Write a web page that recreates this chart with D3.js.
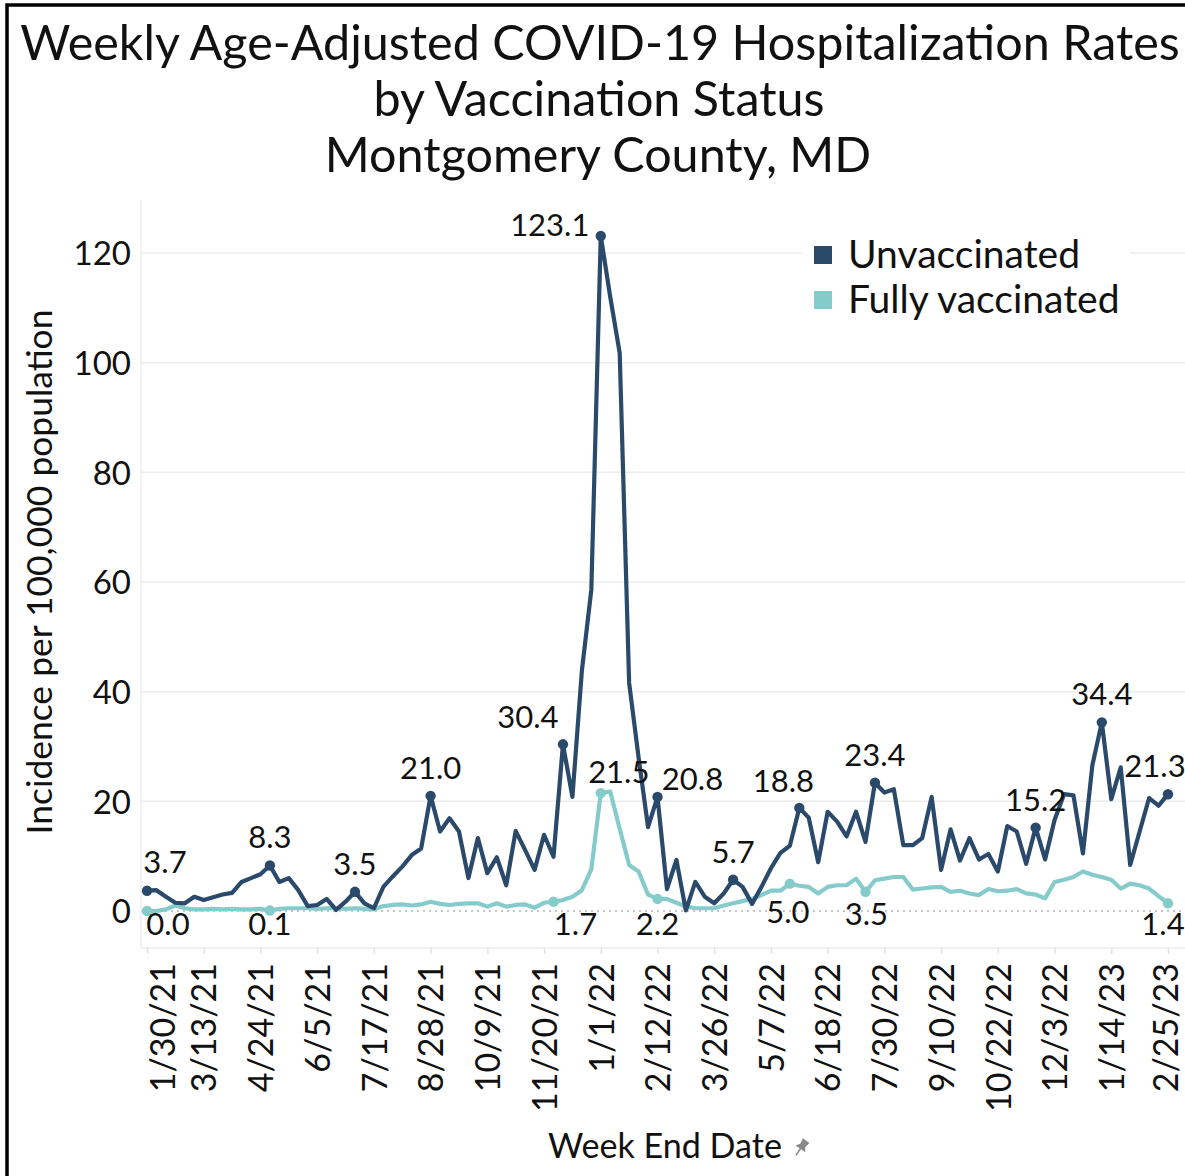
<!DOCTYPE html>
<html><head><meta charset="utf-8">
<script src="https://cdn.jsdelivr.net/npm/d3@7"></script>
<style>
body{margin:0;background:#fff}
svg{display:block}
text{font-family:Lato,"Open Sans",sans-serif;fill:#111}
</style>
</head><body>
<svg id="c" width="1185" height="1176"></svg>
<script>
// ---------- DATA ----------
const titleLines = ["Weekly Age-Adjusted COVID-19 Hospitalization Rates","by Vaccination Status","Montgomery County, MD"];
const seriesNames = ["Unvaccinated","Fully vaccinated"];
const yTitle = "Incidence per 100,000 population";
const xTitle = "Week End Date";
const firstWeek = "1/30/21";
const tickLabels = ["1/30/21","3/13/21","4/24/21","6/5/21","7/17/21","8/28/21","10/9/21","11/20/21","1/1/22","2/12/22","3/26/22","5/7/22","6/18/22","7/30/22","9/10/22","10/22/22","12/3/22","1/14/23","2/25/23"];
const yTicks = [0,20,40,60,80,100,120];
const unvaccinated = [
 3.7,3.8,2.6,1.5,1.4,2.6,2.0,2.5,3.0,3.3,5.3,6.0,6.7,8.3,5.3,6.0,3.8,0.9,1.1,2.2,
 0.2,1.7,3.5,1.4,0.5,4.4,6.3,8.1,10.2,11.4,21.0,14.5,16.9,14.5,6.0,13.3,6.9,9.8,4.7,14.6,
 11.1,7.5,13.9,9.9,30.4,20.8,43.8,58.6,123.1,112.0,101.8,41.6,28.0,15.3,20.8,4.0,9.3,0.1,5.3,2.6,
 1.4,3.2,5.7,4.4,1.3,4.4,7.8,10.6,11.9,18.8,17.0,8.9,18.1,16.3,13.6,18.1,12.6,23.4,21.6,22.2,
 12.0,12.0,13.3,20.8,7.5,14.9,9.2,13.3,9.4,10.4,7.2,15.5,14.5,8.6,15.2,9.4,16.6,21.3,21.1,10.5,
 26.6,34.4,20.4,26.2,8.4,14.5,20.6,19.2,21.3];
const fullyVaccinated = [
 0.0,0.0,0.3,1.0,0.5,0.3,0.3,0.4,0.3,0.4,0.3,0.3,0.4,0.1,0.4,0.5,0.5,0.5,0.4,0.5,
 0.5,0.4,0.5,0.4,0.3,0.9,1.1,1.2,1.0,1.2,1.7,1.3,1.1,1.3,1.4,1.4,0.8,1.4,0.8,1.1,
 1.2,0.6,1.5,1.7,2.0,2.6,3.8,7.6,21.5,21.8,15.0,8.4,7.2,3.0,2.2,2.2,1.5,0.8,0.5,0.5,
 0.5,1.0,1.4,1.8,2.2,2.9,3.7,3.7,5.0,4.6,4.4,3.2,4.4,4.7,4.7,5.9,3.5,5.6,5.9,6.2,
 6.2,3.9,4.1,4.3,4.4,3.5,3.7,3.2,2.9,4.0,3.6,3.7,4.0,3.2,3.0,2.3,5.3,5.7,6.2,7.2,
 6.6,6.2,5.7,4.1,5.0,4.7,4.1,2.7,1.4];
const unvacLabelWeeks = [0,13,22,30,44,48,54,62,69,77,94,101,108];
const vaxLabelWeeks = [0,13,43,48,54,68,76,108];

// ---------- STYLE / LAYOUT ----------
const W = 1185, H = 1176;
const colors = ["#2b4a6b", "#86cbcb"];
const plot = {left:141, right:1185, top:200, bottom:948};
const unvacNudge = {0:[18,-18],44:[-35,-16],48:[-51,0],54:[35,-7],69:[-16,-16],108:[-13,-17]};
const vaxNudge = {0:[21,24],13:[0,25],43:[22,33],48:[18,-10],54:[0,36],68:[-2,39],76:[1,33],108:[-5,32]};

const parse = d3.timeParse("%m/%d/%y");
const start = parse(firstWeek);
const weeks = unvaccinated.map((_, i) => d3.timeDay.offset(start, 7 * i));
const fmt = d3.timeFormat("%-m/%-d/%y");

const x = d3.scaleTime().domain([weeks[0], weeks[weeks.length - 1]]).range([147, 1168]);
const y = d3.scaleLinear().domain([0, 120]).range([911, 253]);

const svg = d3.select("#c");

function fit(sel, target) {
  const fs = parseFloat(sel.style("font-size"));
  const len = sel.node().getComputedTextLength();
  const nfs = fs * target / len;
  sel.style("font-size", nfs + "px");
  return nfs;
}

// border
svg.append("path").attr("d", `M7,${H} V5 H${W}`).attr("fill", "none").attr("stroke", "#000").attr("stroke-width", 3.5);

// title
const t1 = svg.append("text").attr("x", 600).attr("y", 60).attr("text-anchor", "middle").style("font-size", "46px").text(titleLines[0]);
const tfs = fit(t1, 1160);
svg.append("text").attr("x", 599).attr("y", 116).attr("text-anchor", "middle").style("font-size", tfs + "px").text(titleLines[1]);
svg.append("text").attr("x", 598).attr("y", 172).attr("text-anchor", "middle").style("font-size", tfs + "px").text(titleLines[2]);

// gridlines
const gY = svg.append("g");
gY.selectAll("line.grid").data(yTicks.filter(d => d > 0)).join("line")
  .attr("x1", plot.left).attr("x2", plot.right)
  .attr("y1", d => y(d)).attr("y2", d => y(d))
  .attr("stroke", "#ececec").attr("stroke-width", 1.5);
svg.append("line").attr("x1", plot.left).attr("x2", plot.right).attr("y1", y(0)).attr("y2", y(0))
  .attr("stroke", "#b5b5b5").attr("stroke-width", 1.5).attr("stroke-dasharray", "2,4");

// plot frame (left + bottom)
svg.append("line").attr("x1", plot.left).attr("x2", plot.left).attr("y1", plot.top).attr("y2", plot.bottom).attr("stroke", "#eeeeee").attr("stroke-width", 1.5);
svg.append("line").attr("x1", plot.left).attr("x2", plot.right).attr("y1", plot.bottom).attr("y2", plot.bottom).attr("stroke", "#eeeeee").attr("stroke-width", 1.5);

// y axis labels
const yAxis = d3.axisLeft(y).tickValues(yTicks).tickSize(0).tickPadding(0).tickFormat(d3.format("d"));
const ya = svg.append("g").attr("transform", "translate(131,0)").call(yAxis);
ya.select(".domain").remove();
ya.selectAll("text").style("font-size", "33px").attr("fill", "#111").attr("dy", "0.36em");

// x axis ticks + labels
const tickDates = tickLabels.map(parse);
const xAxis = d3.axisBottom(x).tickValues(tickDates).tickSize(6).tickFormat(fmt);
const xa = svg.append("g").attr("transform", `translate(0,${plot.bottom})`).call(xAxis);
xa.select(".domain").remove();
xa.selectAll(".tick line").attr("stroke", "#e2e2e2").attr("stroke-width", 1.5);
const nT = tickLabels.length;
xa.selectAll(".tick text")
  .style("font-size", "34px").attr("fill", "#111")
  .attr("text-anchor", "end")
  .attr("transform", (d, i) => `translate(${i === 0 ? 15 : (i === nT - 1 ? -3 : 0)},15) rotate(-90)`)
  .attr("x", 0).attr("y", 0).attr("dy", "0.36em");

// axis titles
const yt = svg.append("text").attr("text-anchor", "middle")
  .attr("transform", "translate(52,572) rotate(-90)").style("font-size", "30px").text(yTitle);
fit(yt, 525);
const xt = svg.append("text").attr("x", 665).attr("y", 1158).attr("text-anchor", "middle").style("font-size", "30px").text(xTitle);
fit(xt, 234);
// pin icon
svg.append("g").attr("transform", "translate(801,1148) rotate(35)")
  .call(g => {
    g.append("path").attr("d", "M-4,-9 H4 L3,-3 L6,1 H-6 L-3,-3 Z").attr("fill", "#8a8a8a");
    g.append("line").attr("x1", 0).attr("x2", 0).attr("y1", 1).attr("y2", 9).attr("stroke", "#8a8a8a").attr("stroke-width", 1.6);
  });

// lines
const series = [unvaccinated, fullyVaccinated];
const line = d3.line().x((d, i) => x(weeks[i])).y(d => y(d));
[1, 0].forEach(k => {
  svg.append("path").datum(series[k]).attr("d", line)
    .attr("fill", "none").attr("stroke", colors[k]).attr("stroke-width", 4.2)
    .attr("stroke-linejoin", "round").attr("stroke-linecap", "round");
});

// markers + labels
function marks(k, idx, nudge, defDy) {
  const g = svg.append("g");
  g.selectAll("circle").data(idx).join("circle")
    .attr("cx", i => x(weeks[i])).attr("cy", i => y(series[k][i])).attr("r", 5.2).attr("fill", colors[k]);
  g.selectAll("text").data(idx).join("text")
    .attr("x", i => x(weeks[i]) + (nudge[i] ? nudge[i][0] : 0))
    .attr("y", i => y(series[k][i]) + (nudge[i] ? nudge[i][1] : defDy))
    .attr("text-anchor", "middle").style("font-size", "31px")
    .text(i => series[k][i].toFixed(1));
}
marks(1, vaxLabelWeeks, vaxNudge, 25);
marks(0, unvacLabelWeeks, unvacNudge, -17);

// legend
const lg = svg.append("g");
lg.append("rect").attr("x", 802).attr("y", 236).attr("width", 328).attr("height", 86).attr("fill", "#fff");
seriesNames.forEach((n, k) => {
  lg.append("rect").attr("x", 814).attr("y", 246 + k * 45).attr("width", 18).attr("height", 18).attr("fill", colors[k]);
});
const l0 = lg.append("text").attr("x", 848).attr("y", 268).style("font-size", "34px").text(seriesNames[0]);
const lfs = fit(l0, 232);
lg.append("text").attr("x", 848).attr("y", 313).style("font-size", lfs + "px").text(seriesNames[1]);
</script>
</body></html>
